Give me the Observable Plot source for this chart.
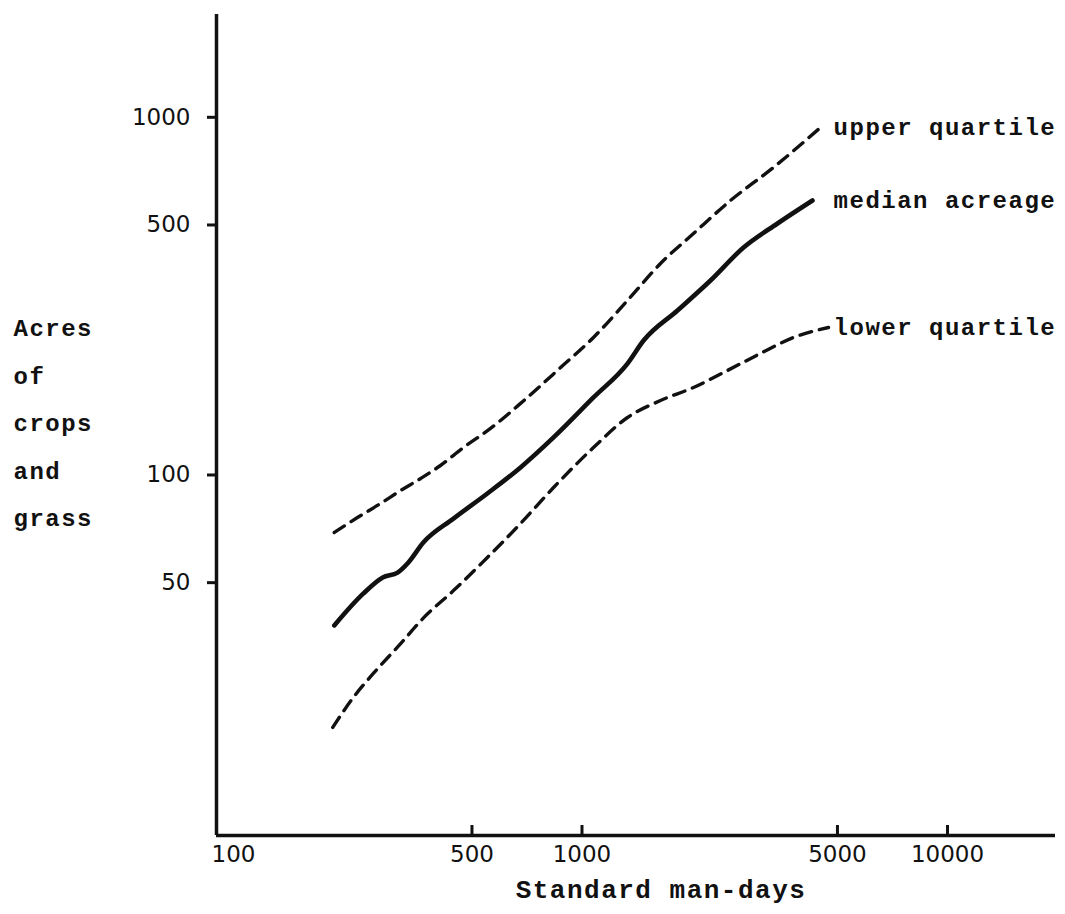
<!DOCTYPE html>
<html>
<head>
<meta charset="utf-8">
<script src="https://cdn.jsdelivr.net/npm/d3@7"></script>
<script src="https://cdn.jsdelivr.net/npm/@observablehq/plot@0.6"></script>
<style>
  html, body { margin: 0; padding: 0; background: #fff; }
  /* typewriter-style labels get a little extra tracking */
  #chart svg g[font-family^="Liberation Mono"] { letter-spacing: 1.5px; }
</style>
</head>
<body>
<div id="chart"></div>
<script>
// Standard man-days (x) against acres of crops and grass (y), both on log scales
const xTicks = [500, 1000, 5000, 10000];
const xFirstTick = [100];
const yTicks = [50, 100, 500, 1000];

const medianDays  = [210, 252, 285, 313, 335, 368, 445, 551, 679, 836, 1075, 1332, 1474, 1825, 2247, 2767, 3426, 4272];
const medianAcres = [37.0, 45.4, 50.4, 52.0, 55.5, 63.1, 73.6, 86.5, 102.3, 124.1, 160.5, 199.7, 231.6, 281.0, 340.8, 421.5, 491.9, 570.5];

const upperDays  = [210, 243, 281, 319, 362, 410, 474, 562, 679, 874, 1075, 1332, 1640, 2019, 2549, 3341, 4493];
const upperAcres = [67.3, 74.1, 81.1, 88.2, 95.3, 103.6, 116.3, 131.5, 154.5, 194.7, 236.2, 299.7, 380.3, 461.3, 570.5, 705.6, 912.7];

const lowerDays  = [208, 237, 269, 319, 369, 445, 551, 679, 836, 1075, 1332, 1640, 2019, 2501, 3078, 3791, 4725];
const lowerAcres = [19.2, 23.3, 27.2, 32.9, 38.9, 46.3, 57.3, 71.3, 89.9, 116.3, 141.1, 157.4, 171.2, 191.0, 213.1, 236.2, 251.9];

const seriesNames = ["upper quartile", "median acreage", "lower quartile"];
const xTitle = "Standard man-days";
const yTitle = "Acres\nof\ncrops\nand\ngrass";

const xDomain = [100, 19750];
const yDomain = [9.57, 1889];
const labelDays = 4880;

const toPoints = (days, acres) => days.map((d, i) => ({days: d, acres: acres[i]}));
const series = [
  {name: seriesNames[0], points: toPoints(upperDays, upperAcres)},
  {name: seriesNames[1], points: toPoints(medianDays, medianAcres)},
  {name: seriesNames[2], points: toPoints(lowerDays, lowerAcres)}
];
const ends = series.map(s => ({name: s.name, acres: s.points[s.points.length - 1].acres}));

const ink = "#111";
const mono = "Liberation Mono";
const numFont = "DejaVu Sans";
const fmt = d => String(d);

const chart = Plot.plot({
  width: 1065,
  height: 914,
  marginLeft: 216,
  marginRight: 10,
  marginTop: 14,
  marginBottom: 79,
  style: {background: "#fff", color: ink, fontFamily: numFont, fontSize: "23px"},
  x: {type: "log", domain: xDomain},
  y: {type: "log", domain: yDomain},
  marks: [
    // axis lines
    Plot.ruleX([xDomain[0]], {stroke: ink, strokeWidth: 3.5}),
    Plot.ruleY([yDomain[0]], {stroke: ink, strokeWidth: 3.5}),
    // y axis: outward ticks with labels
    Plot.axisY(yTicks, {anchor: "left", tickSize: 9, tickPadding: 17, strokeWidth: 3,
      tickFormat: fmt, fontSize: 23, fontFamily: numFont, dy: 4, label: null}),
    // x axis: inward ticks, labels below the line
    Plot.axisX(xTicks, {anchor: "bottom", tickSize: -10, strokeWidth: 3, fill: "none", label: null}),
    Plot.axisX(xTicks, {anchor: "bottom", tickSize: 0, tickPadding: 10,
      tickFormat: fmt, fontSize: 23, fontFamily: numFont, label: null}),
    Plot.axisX(xFirstTick, {anchor: "bottom", tickSize: 0, tickPadding: 10, textAnchor: "start", dx: -5,
      tickFormat: fmt, fontSize: 23, fontFamily: numFont, label: null}),
    // quartile curves (dashed) and median (solid)
    Plot.line(series[0].points, {x: "days", y: "acres", curve: "monotone-x", stroke: ink,
      strokeWidth: 3.4, strokeDasharray: "12,8"}),
    Plot.line(series[2].points, {x: "days", y: "acres", curve: "monotone-x", stroke: ink,
      strokeWidth: 3.4, strokeDasharray: "12,8"}),
    Plot.line(series[1].points, {x: "days", y: "acres", curve: "monotone-x", stroke: ink,
      strokeWidth: 4.6, strokeLinecap: "round"}),
    // curve names
    Plot.text(ends, {x: () => labelDays, y: "acres", text: "name", textAnchor: "start",
      fontFamily: mono, fontWeight: "bold", fontSize: 24, fill: ink}),
    // axis titles
    Plot.text([yTitle], {text: d => d, frameAnchor: "left", dx: -203, dy: -9, textAnchor: "start",
      lineHeight: 1.98, fontFamily: mono, fontWeight: "bold", fontSize: 24, fill: ink}),
    Plot.text([xTitle], {text: d => d, frameAnchor: "bottom", dx: 25, dy: 62,
      fontFamily: mono, fontWeight: "bold", fontSize: 26, fill: ink})
  ]
});

document.getElementById("chart").appendChild(chart);
</script>
</body>
</html>
